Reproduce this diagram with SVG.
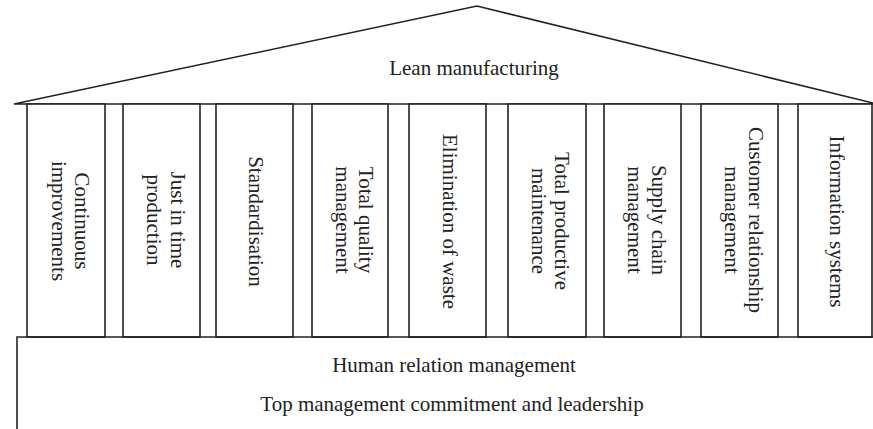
<svg xmlns="http://www.w3.org/2000/svg" width="873" height="429" viewBox="0 0 873 429">
  <style>
    .ln { fill: none; stroke: #222; stroke-width: 1.6; }
    .pillar { fill: #fff; stroke: #222; stroke-width: 1.6; }
    .lbl { font-family: "Liberation Serif", "Times New Roman", serif; font-size: 21px; fill: #222; text-anchor: middle; }
  </style>
  <rect width="873" height="429" fill="#fff"/>

  <!-- roof -->
  <g id="roof">
    <polygon class="ln" points="14,104 477,6 873,103 873,104 14,104"/>
    <text class="lbl" x="474" y="75">Lean manufacturing</text>
  </g>

  <!-- pillars: each text is rotated so it reads top to bottom -->
  <g id="pillar-continuous-improvements">
    <rect class="pillar" x="27" y="104" width="78" height="233"/>
    <text class="lbl" transform="translate(66,221) rotate(90)"><tspan x="0" y="-9">Continuous</tspan><tspan x="0" y="14.5">improvements</tspan></text>
  </g>
  <g id="pillar-just-in-time">
    <rect class="pillar" x="123" y="104" width="77" height="233"/>
    <text class="lbl" transform="translate(161.5,220) rotate(90)"><tspan x="0" y="-9">Just in time</tspan><tspan x="0" y="14.5">production</tspan></text>
  </g>
  <g id="pillar-standardisation">
    <rect class="pillar" x="216" y="104" width="77" height="233"/>
    <text class="lbl" transform="translate(254.5,221.5) rotate(90)"><tspan x="0" y="6">Standardisation</tspan></text>
  </g>
  <g id="pillar-total-quality">
    <rect class="pillar" x="312" y="104" width="76" height="233"/>
    <text class="lbl" transform="translate(350,220) rotate(90)"><tspan x="0" y="-9">Total quality</tspan><tspan x="0" y="14.5">management</tspan></text>
  </g>
  <g id="pillar-elimination-of-waste">
    <rect class="pillar" x="409" y="104" width="77" height="233"/>
    <text class="lbl" transform="translate(447.5,221.5) rotate(90)"><tspan x="0" y="5">Elimination of waste</tspan></text>
  </g>
  <g id="pillar-total-productive-maintenance">
    <rect class="pillar" x="508" y="104" width="78" height="233"/>
    <text class="lbl" transform="translate(547,221) rotate(90)"><tspan x="0" y="-8">Total productive</tspan><tspan x="0" y="15.5">maintenance</tspan></text>
  </g>
  <g id="pillar-supply-chain">
    <rect class="pillar" x="604" y="104" width="77" height="233"/>
    <text class="lbl" transform="translate(642.5,220) rotate(90)"><tspan x="0" y="-9">Supply chain</tspan><tspan x="0" y="14.5">management</tspan></text>
  </g>
  <g id="pillar-customer-relationship">
    <rect class="pillar" x="701" y="104" width="77" height="233"/>
    <text class="lbl" transform="translate(739.5,220) rotate(90)"><tspan x="0" y="-9">Customer relationship</tspan><tspan x="0" y="14.5">management</tspan></text>
  </g>
  <g id="pillar-information-systems">
    <rect class="pillar" x="798" y="104" width="74" height="233"/>
    <text class="lbl" transform="translate(835,221.5) rotate(90)"><tspan x="0" y="5">Information systems</tspan></text>
  </g>

  <!-- foundation -->
  <g id="foundation">
    <polyline class="ln" points="17,429 17,337 873,337"/>
    <text class="lbl" x="454" y="372">Human relation management</text>
    <text class="lbl" x="452" y="411">Top management commitment and leadership</text>
  </g>
</svg>
